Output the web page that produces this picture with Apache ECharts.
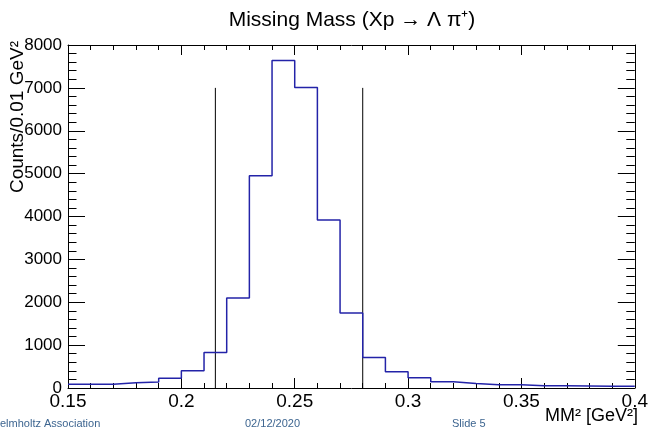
<!DOCTYPE html>
<html>
<head>
<meta charset="utf-8">
<script src="https://cdn.jsdelivr.net/npm/echarts@6/dist/echarts.min.js"></script>
<style>
html,body{margin:0;padding:0;background:#fff;}
#c{width:651px;height:430px;}
</style>
</head>
<body>
<div id="c"></div>
<script>
// ---- data ----
var binLowEdges = [0.15,0.16,0.17,0.18,0.19,0.20,0.21,0.22,0.23,0.24,0.25,0.26,0.27,0.28,0.29,0.30,0.31,0.32,0.33,0.34,0.35,0.36,0.37,0.38,0.39];
var binHighLast = 0.40;
var counts = [90,90,120,140,230,400,830,2100,4950,7640,7010,3920,1750,710,380,240,145,105,75,75,55,50,45,40,40];
var cutPositions = [0.215, 0.28];
var cutHeight = 7000;
var xTickLabels = {'0.15':'0.15','0.2':'0.2','0.25':'0.25','0.3':'0.3','0.35':'0.35','0.4':'0.4'};
var yTickLabels = ['0','1000','2000','3000','4000','5000','6000','7000','8000'];

var titleText = 'Missing Mass (Xp \u2192 \u039B \u03C0\u207A)';
var yTitle = 'Counts/0.01 GeV\u00B2';
var xTitle = 'MM\u00B2 [GeV\u00B2]';
var footer = ['elmholtz Association', '02/12/2020', 'Slide 5'];

// ---- build ----
var histData = binLowEdges.map(function (x, i) { return [x, counts[i]]; });
histData.push([binHighLast, counts[counts.length - 1]]);

var FONT = '"Liberation Sans", Arial, sans-serif';
var chart = echarts.init(document.getElementById('c'), null, {renderer: 'canvas'});

var cutSeries = cutPositions.map(function (x) {
  return {
    type: 'line', data: [[x, 0], [x, cutHeight]], showSymbol: false, symbol: 'none',
    lineStyle: {color: '#000', width: 1}, silent: true, animation: false, z: 3
  };
});

function xAxisCfg(pos, labels) {
  return {
    type: 'value', position: pos, min: 0.15, max: 0.4, interval: 0.05,
    axisLine: {show: true, onZero: false, lineStyle: {color: '#000', width: 1}},
    axisTick: {show: true, inside: true, length: 10, lineStyle: {color: '#000', width: 1}},
    minorTick: {show: true, splitNumber: 5, length: 5, lineStyle: {color: '#000', width: 1}},
    splitLine: {show: false}, minorSplitLine: {show: false},
    axisLabel: {show: labels, color: '#000', fontFamily: FONT, fontSize: 19, margin: 4,
      formatter: function (v) { var k = String(parseFloat(v.toFixed(3))); return xTickLabels[k] || k; }}
  };
}
function yAxisCfg(pos, labels) {
  return {
    type: 'value', position: pos, min: 0, max: 8000, interval: 1000,
    axisLine: {show: true, onZero: false, lineStyle: {color: '#000', width: 1}},
    axisTick: {show: true, inside: true, length: 17, lineStyle: {color: '#000', width: 1}},
    minorTick: {show: true, splitNumber: 5, length: 8.5, lineStyle: {color: '#000', width: 1}},
    splitLine: {show: false}, minorSplitLine: {show: false},
    axisLabel: {show: labels, color: '#000', fontFamily: FONT, fontSize: 17, margin: 6,
      formatter: function (v) { return yTickLabels[Math.round(v / 1000)]; }}
  };
}

var option = {
  animation: false,
  backgroundColor: '#fff',
  grid: {left: 68, right: 12, top: 45, bottom: 42, containLabel: false},
  xAxis: [xAxisCfg('bottom', true), xAxisCfg('top', false)],
  yAxis: [yAxisCfg('left', true), yAxisCfg('right', false)],
  series: [{
    type: 'line', data: histData, step: 'end', showSymbol: false, symbol: 'none',
    lineStyle: {color: '#2323a8', width: 1.5}, silent: true, z: 4
  }].concat(cutSeries),
  graphic: [
    {type: 'text', x: 352, y: 20, style: {text: titleText, font: '21px ' + FONT, fill: '#000', align: 'center', verticalAlign: 'middle'}},
    {type: 'text', x: 18, y: 41, rotation: Math.PI / 2,
      style: {text: yTitle, font: '19px ' + FONT, fill: '#000', align: 'right', verticalAlign: 'middle'}},
    {type: 'text', x: 638, y: 416, style: {text: xTitle, font: '18px ' + FONT, fill: '#000', align: 'right', verticalAlign: 'middle'}},
    {type: 'text', x: 0, y: 424, style: {text: footer[0], font: '11px ' + FONT, fill: '#3d6590', verticalAlign: 'middle'}},
    {type: 'text', x: 245, y: 424, style: {text: footer[1], font: '11px ' + FONT, fill: '#3d6590', verticalAlign: 'middle'}},
    {type: 'text', x: 452, y: 424, style: {text: footer[2], font: '11px ' + FONT, fill: '#3d6590', verticalAlign: 'middle'}}
  ]
};
chart.setOption(option);
</script>
</body>
</html>
